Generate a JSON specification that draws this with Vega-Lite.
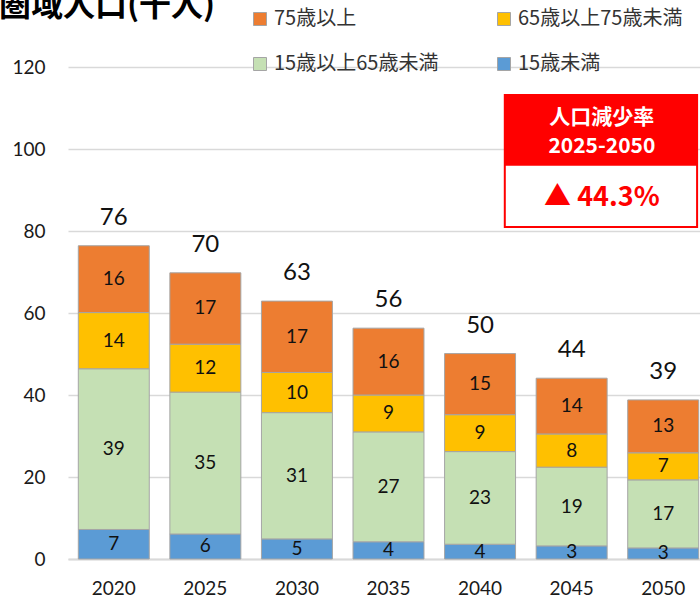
{
  "$schema": "https://vega.github.io/schema/vega-lite/v6.json",
  "width": 641,
  "height": 492,
  "autosize": "none",
  "padding": {"left": 68, "top": 67, "right": 0, "bottom": 42},
  "background": "white",
  "title": {"text": "圏域人口(千人)", "anchor": "start", "frame": "group", "fontSize": 32, "font": "Noto Sans CJK JP", "fontWeight": "bold", "color": "#000000", "dx": -69, "dy": 18},
  "config": {
    "view": {"stroke": null},
    "font": "Lato",
    "legend": {"padding": 0}
  },
  "datasets": {
    "pop": [
      {"year": "2020", "group": "15歳未満", "k": 1, "value": 7.2},
      {"year": "2020", "group": "15歳以上65歳未満", "k": 2, "value": 39.2},
      {"year": "2020", "group": "65歳以上75歳未満", "k": 3, "value": 13.7},
      {"year": "2020", "group": "75歳以上", "k": 4, "value": 16.3},
      {"year": "2025", "group": "15歳未満", "k": 1, "value": 6.1},
      {"year": "2025", "group": "15歳以上65歳未満", "k": 2, "value": 34.6},
      {"year": "2025", "group": "65歳以上75歳未満", "k": 3, "value": 11.7},
      {"year": "2025", "group": "75歳以上", "k": 4, "value": 17.4},
      {"year": "2030", "group": "15歳未満", "k": 1, "value": 4.9},
      {"year": "2030", "group": "15歳以上65歳未満", "k": 2, "value": 30.8},
      {"year": "2030", "group": "65歳以上75歳未満", "k": 3, "value": 9.8},
      {"year": "2030", "group": "75歳以上", "k": 4, "value": 17.4},
      {"year": "2035", "group": "15歳未満", "k": 1, "value": 4.2},
      {"year": "2035", "group": "15歳以上65歳未満", "k": 2, "value": 26.8},
      {"year": "2035", "group": "65歳以上75歳未満", "k": 3, "value": 9.0},
      {"year": "2035", "group": "75歳以上", "k": 4, "value": 16.3},
      {"year": "2040", "group": "15歳未満", "k": 1, "value": 3.6},
      {"year": "2040", "group": "15歳以上65歳未満", "k": 2, "value": 22.6},
      {"year": "2040", "group": "65歳以上75歳未満", "k": 3, "value": 9.0},
      {"year": "2040", "group": "75歳以上", "k": 4, "value": 14.9},
      {"year": "2045", "group": "15歳未満", "k": 1, "value": 3.2},
      {"year": "2045", "group": "15歳以上65歳未満", "k": 2, "value": 19.2},
      {"year": "2045", "group": "65歳以上75歳未満", "k": 3, "value": 8.1},
      {"year": "2045", "group": "75歳以上", "k": 4, "value": 13.6},
      {"year": "2050", "group": "15歳未満", "k": 1, "value": 2.7},
      {"year": "2050", "group": "15歳以上65歳未満", "k": 2, "value": 16.6},
      {"year": "2050", "group": "65歳以上75歳未満", "k": 3, "value": 6.6},
      {"year": "2050", "group": "75歳以上", "k": 4, "value": 12.9}
    ]
  },
  "layer": [
    {
      "data": {"name": "pop"},
      "encoding": {
        "x": {
          "field": "year", "type": "ordinal",
          "scale": {"paddingInner": 0.225, "paddingOuter": 0.1125},
          "axis": {"title": null, "labelAngle": 0, "labelFontSize": 19, "labelColor": "#1a1a1a", "labelPadding": 20, "ticks": false, "domainColor": "#D9D9D9", "domainWidth": 2, "grid": false}
        }
      },
      "layer": [
        {
          "mark": {"type": "bar", "stroke": "#A5A5A5", "strokeWidth": 1},
          "encoding": {
            "y": {
              "field": "value", "type": "quantitative", "stack": "zero",
              "scale": {"domain": [0, 120], "nice": false},
              "axis": {"title": null, "values": [0, 20, 40, 60, 80, 100, 120], "domain": false, "ticks": false, "labelPadding": 23, "labelFontSize": 19, "labelColor": "#1a1a1a", "gridColor": "#D9D9D9", "gridWidth": 1.5}
            },
            "color": {
              "field": "group", "type": "nominal",
              "scale": {"domain": ["75歳以上", "65歳以上75歳未満", "15歳以上65歳未満", "15歳未満"], "range": ["#ED7D31", "#FFC000", "#C5E0B4", "#5B9BD5"]},
              "legend": {"title": null, "orient": "none", "legendX": 182, "legendY": -58, "columns": 2, "direction": "horizontal", "columnPadding": 55, "rowPadding": 25, "symbolType": "square", "symbolSize": 169, "symbolStrokeColor": "#A5A5A5", "symbolStrokeWidth": 1, "symbolOpacity": 1, "labelFont": "Noto Sans CJK JP", "labelFontSize": 20, "labelColor": "#333333", "labelLimit": 400, "labelOffset": 4}
            },
            "order": {"field": "k", "type": "quantitative"}
          }
        },
        {
          "mark": {"type": "text", "fontSize": 19, "color": "#111111"},
          "encoding": {
            "y": {"field": "value", "type": "quantitative", "stack": "zero", "bandPosition": 0.5},
            "detail": {"field": "group"},
            "order": {"field": "k", "type": "quantitative"},
            "text": {"field": "value", "type": "quantitative", "format": ".0f"}
          }
        },
        {
          "mark": {"type": "text", "fontSize": 24, "baseline": "bottom", "dy": -16, "color": "#111111"},
          "encoding": {
            "y": {"aggregate": "sum", "field": "value", "type": "quantitative"},
            "text": {"aggregate": "sum", "field": "value", "type": "quantitative", "format": ".0f"}
          }
        }
      ]
    },
    {
      "data": {"values": [{}]},
      "layer": [
        {
          "mark": {"type": "rect", "fill": "white", "stroke": "#FF0000", "strokeWidth": 2},
          "encoding": {
            "x": {"datum": 4.77, "type": "quantitative", "scale": {"domain": [0, 7], "nice": false, "zero": false}, "axis": null},
            "x2": {"datum": 6.87},
            "y": {"datum": 81.0, "type": "quantitative"},
            "y2": {"datum": 113.2}
          }
        },
        {
          "mark": {"type": "rect", "fill": "#FF0000"},
          "encoding": {
            "x": {"datum": 4.77, "type": "quantitative"},
            "x2": {"datum": 6.87},
            "y": {"datum": 95.9, "type": "quantitative"},
            "y2": {"datum": 113.2}
          }
        },
        {
          "mark": {"type": "text", "text": "人口減少率", "font": "Noto Sans CJK JP", "fontWeight": "bold", "fontSize": 21, "color": "white"},
          "encoding": {
            "x": {"datum": 5.83, "type": "quantitative"},
            "y": {"datum": 107.6, "type": "quantitative"}
          }
        },
        {
          "mark": {"type": "text", "text": "2025-2050", "font": "Noto Sans CJK JP", "fontWeight": "bold", "fontSize": 21, "color": "white"},
          "encoding": {
            "x": {"datum": 5.83, "type": "quantitative"},
            "y": {"datum": 100.5, "type": "quantitative"}
          }
        },
        {
          "mark": {"type": "text", "text": "▲ 44.3%", "font": "Noto Sans CJK JP", "fontWeight": "bold", "fontSize": 27, "color": "#FF0000"},
          "encoding": {
            "x": {"datum": 5.83, "type": "quantitative"},
            "y": {"datum": 88.0, "type": "quantitative"}
          }
        }
      ]
    }
  ],
  "resolve": {"scale": {"x": "independent"}}
}
